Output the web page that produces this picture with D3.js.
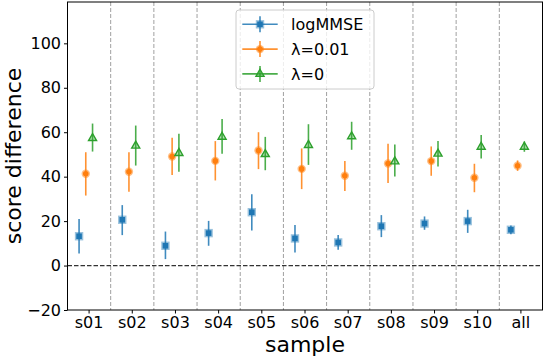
<!DOCTYPE html>
<html>
<head>
<meta charset="utf-8">
<script src="https://cdn.jsdelivr.net/npm/d3@7"></script>
<style>
body { margin: 0; background: #fff; }
text { font-family: "DejaVu Sans", sans-serif; }
</style>
</head>
<body>
<svg id="chart" width="544" height="358"></svg>
<script>
var samples = ["s01","s02","s03","s04","s05","s06","s07","s08","s09","s10","all"];

var logMmse    = [13.2, 20.6, 8.9, 14.6, 24.0, 12.2, 10.4, 17.7, 18.9, 20.0, 16.1];
var logMmseLo  = [5.4, 13.7, 2.9, 8.9, 15.8, 5.9, 7.1, 12.8, 16.1, 14.7, 14.1];
var logMmseHi  = [20.9, 27.2, 15.3, 20.1, 32.1, 18.3, 13.7, 22.7, 22.1, 25.1, 18.0];

var lam001     = [41.3, 42.2, 49.1, 47.1, 51.8, 43.5, 40.4, 45.9, 47.0, 39.5, 44.9];
var lam001Lo   = [31.5, 33.2, 40.7, 38.3, 43.4, 34.4, 33.5, 37.1, 40.4, 33.0, 42.6];
var lam001Hi   = [51.0, 51.0, 57.5, 56.0, 60.0, 52.7, 47.1, 54.8, 53.6, 45.8, 47.3];

var lam0       = [57.3, 53.9, 50.6, 57.9, 50.1, 54.2, 58.1, 46.8, 50.3, 53.4, 53.4];
var lam0Lo     = [51.3, 45.0, 42.2, 50.3, 42.9, 45.3, 52.1, 40.1, 44.6, 48.2, 51.2];
var lam0Hi     = [63.9, 63.0, 59.3, 66.0, 57.9, 63.6, 64.7, 54.5, 56.1, 58.8, 55.8];

var yTicks = [-20, 0, 20, 40, 60, 80, 100];

var series = [
  {name: "logMMSE", v: logMmse, lo: logMmseLo, hi: logMmseHi, color: "#1f77b4", shape: "square", off: -0.232},
  {name: "λ=0.01", v: lam001, lo: lam001Lo, hi: lam001Hi, color: "#ff7f0e", shape: "circle", off: -0.077},
  {name: "λ=0", v: lam0, lo: lam0Lo, hi: lam0Hi, color: "#2ca02c", shape: "triangle", off: 0.08}
];

var svg = d3.select("#chart");
var pLeft = 67.5, pRight = 542.5, pTop = 2, pBottom = 310;

var x = d3.scaleBand().domain(samples).range([pLeft, pRight]).padding(0);
var y = d3.scaleLinear().domain([-20, 118.6]).range([pBottom, pTop]);

// category separators
svg.append("g").selectAll("line")
  .data(samples.slice(1))
  .join("line")
  .attr("x1", function(d) { return x(d); })
  .attr("x2", function(d) { return x(d); })
  .attr("y1", pTop).attr("y2", pBottom)
  .attr("stroke", "#a0a0a0").attr("stroke-width", 1)
  .attr("stroke-dasharray", "4,2");

// zero line
svg.append("line")
  .attr("x1", pLeft).attr("x2", pRight)
  .attr("y1", y(0)).attr("y2", y(0))
  .attr("stroke", "#333").attr("stroke-width", 1.2)
  .attr("stroke-dasharray", "4.5,2");

function drawMarker(g, shape, color) {
  if (shape == "square") {
    g.append("rect").attr("x", -4.2).attr("y", -4.2)
      .attr("width", 8.4).attr("height", 8.4)
      .attr("fill", color).attr("opacity", 0.45);
    g.append("rect").attr("x", -2.8).attr("y", -2.8)
      .attr("width", 5.6).attr("height", 5.6).attr("fill", color);
  } else if (shape == "circle") {
    g.append("circle").attr("r", 4.2).attr("fill", color).attr("opacity", 0.5);
    g.append("circle").attr("r", 2.8).attr("fill", color);
  } else {
    var tri = d3.symbol().type(d3.symbolTriangle).size(28);
    g.append("path").attr("d", tri()).attr("fill", color).attr("opacity", 0.35);
    g.append("path").attr("d", tri()).attr("fill", "none")
      .attr("stroke", color).attr("stroke-width", 1.4);
  }
}

series.forEach(function(s) {
  var g = svg.append("g");
  samples.forEach(function(c, i) {
    var cx = x(c) + x.bandwidth() * (0.5 + s.off);
    g.append("line")
      .attr("x1", cx).attr("x2", cx)
      .attr("y1", y(s.lo[i])).attr("y2", y(s.hi[i]))
      .attr("stroke", s.color).attr("stroke-width", 1.6).attr("opacity", 0.85);
    var m = g.append("g").attr("transform", "translate(" + cx + "," + y(s.v[i]) + ")");
    drawMarker(m, s.shape, s.color);
  });
});

// axes
var yAxis = svg.append("g")
  .attr("transform", "translate(" + pLeft + ",0)")
  .call(d3.axisLeft(y).tickValues(yTicks).tickSize(3.5).tickPadding(3)
    .tickFormat(function(d) { return d < 0 ? "\u2212" + Math.abs(d) : d; }));
var xAxis = svg.append("g")
  .attr("transform", "translate(0," + pBottom + ")")
  .call(d3.axisBottom(x).tickSize(3.5).tickPadding(3));
[yAxis, xAxis].forEach(function(a) {
  a.select(".domain").remove();
  a.selectAll("text").attr("font-size", 16).attr("fill", "#000")
    .attr("font-family", "DejaVu Sans");
  a.selectAll("line").attr("stroke", "#000");
});

// frame
svg.append("rect")
  .attr("x", pLeft).attr("y", pTop)
  .attr("width", pRight - pLeft).attr("height", pBottom - pTop)
  .attr("fill", "none").attr("stroke", "#000").attr("stroke-width", 1);

// axis titles
svg.append("text")
  .attr("x", (pLeft + pRight) / 2).attr("y", 352)
  .attr("text-anchor", "middle").attr("font-size", 22)
  .text("sample");
svg.append("text")
  .attr("transform", "translate(21," + ((pTop + pBottom) / 2) + ") rotate(-90)")
  .attr("text-anchor", "middle").attr("font-size", 22)
  .text("score difference");

// legend
var legend = svg.append("g").attr("transform", "translate(236,10)");
legend.append("rect")
  .attr("width", 138).attr("height", 79).attr("rx", 3)
  .attr("fill", "#fff").attr("fill-opacity", 0.8)
  .attr("stroke", "#ccc").attr("stroke-width", 1);
series.forEach(function(s, i) {
  var row = legend.append("g").attr("transform", "translate(0," + (14.3 + i * 24.8) + ")");
  row.append("line").attr("x1", 6.3).attr("x2", 41.7)
    .attr("stroke", s.color).attr("stroke-width", 1.6).attr("opacity", 0.85);
  row.append("line").attr("x1", 24).attr("x2", 24).attr("y1", -8).attr("y2", 8)
    .attr("stroke", s.color).attr("stroke-width", 1.6).attr("opacity", 0.85);
  drawMarker(row.append("g").attr("transform", "translate(24,0)"), s.shape, s.color);
  row.append("text").attr("x", 55).attr("y", 0).attr("dy", "0.36em")
    .attr("font-size", 16).text(s.name);
});
</script>
</body>
</html>
